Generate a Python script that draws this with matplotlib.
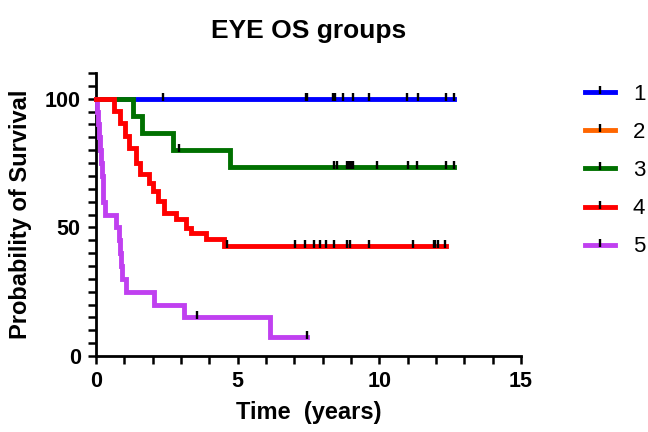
import matplotlib
matplotlib.use("Agg")
import matplotlib.pyplot as plt
from matplotlib.path import Path
from matplotlib.lines import Line2D
import numpy as np

plt.rcParams['font.family'] = ['Liberation Sans', 'DejaVu Sans']

title = "EYE OS groups"
xlabel = "Time  (years)"
ylabel = "Probability of Survival"
group_labels = ["1", "2", "3", "4", "5"]
colors = ["#0000ff", "#ff6600", "#007000", "#ff0000", "#c040f0"]

# Group 1
g1_times = [0.0]
g1_surv = [100.0]
g1_end = 12.63
g1_cens = [2.36, 7.40, 7.45, 8.38, 8.44, 8.72, 9.06, 9.62, 10.99, 11.38, 12.37, 12.63]

# Group 2 (no visible curve)
g2_times = []
g2_surv = []

# Group 3
g3_times = [0.0, 1.32, 1.61, 2.73, 4.73]
g3_surv = [100.0, 93.3, 86.7, 80.0, 73.3]
g3_end = 12.63
g3_cens = [2.92, 8.41, 8.50, 8.86, 8.93, 9.00, 9.07, 9.92, 11.00, 11.33, 12.37, 12.63]

# Group 4
g4_times = [0.0, 0.65, 0.85, 1.04, 1.18, 1.41, 1.57, 1.88, 2.00, 2.18, 2.41, 2.83, 3.18, 3.36, 3.89, 4.53]
g4_surv = [100.0, 95.2, 90.7, 85.5, 80.9, 75.1, 70.6, 67.3, 64.0, 60.2, 55.7, 53.1, 49.8, 47.9, 45.3, 42.7]
g4_end = 12.35
g4_cens = [4.62, 7.01, 7.39, 7.68, 7.92, 8.12, 8.41, 8.86, 8.95, 9.62, 11.18, 11.92, 11.98, 12.06, 12.33]

# Group 5
g5_times = [0.0, 0.04, 0.07, 0.10, 0.14, 0.18, 0.21, 0.23, 0.26, 0.30, 0.70, 0.80, 0.84, 0.87, 0.90, 1.05, 2.03, 3.09, 6.15]
g5_surv = [100, 95, 90, 85, 80, 75, 70, 65, 60, 55, 50, 45, 40, 35, 30, 25, 20, 15, 7.5]
g5_end = 7.45
g5_cens = [3.56, 7.45]

fig = plt.figure(figsize=(6.48, 4.32), dpi=100)
ax = fig.add_axes([96/648, 1-356/432, (521-96)/648, (356-73)/432])

tick_marker = Path([(0, -0.3), (0, 1.0)], [Path.MOVETO, Path.LINETO])
LW = 3.5

def km(times, surv, end, cens, color):
    if not times:
        return
    t = list(times) + [end]
    s = list(surv) + [surv[-1]]
    ax.step(t, s, where='post', color=color, lw=LW, solid_joinstyle='miter', clip_on=False, zorder=3)
    cs = []
    for c in cens:
        idx = np.searchsorted(np.array(times), c, side='right') - 1
        cs.append(surv[idx])
    ax.plot(cens, cs, linestyle='none', marker=tick_marker, markersize=9,
            markeredgewidth=1.7, color='black', clip_on=False, zorder=4)

km(g1_times, g1_surv, g1_end, g1_cens, colors[0])
km(g3_times, g3_surv, g3_end, g3_cens, colors[2])
km(g5_times, g5_surv, g5_end, g5_cens, colors[4])
km(g4_times, g4_surv, g4_end, g4_cens, colors[3])

ax.set_xlim(0, 15)
ax.set_ylim(0, 110)
ax.set_xticks([0, 5, 10, 15])
ax.set_xticks(np.arange(0, 16, 1), minor=True)
ax.set_yticks([0, 50, 100])
ax.set_yticks(np.arange(0, 111, 5), minor=True)
for sp in ['top', 'right']:
    ax.spines[sp].set_visible(False)
for sp in ['left', 'bottom']:
    ax.spines[sp].set_linewidth(2.0)
ax.tick_params(which='both', direction='out', length=6, width=1.8, color='black')
ax.tick_params(which='major', labelsize=15.5, pad=5)
for lab in ax.get_xticklabels() + ax.get_yticklabels():
    lab.set_fontweight('bold')

ax.set_title(title, fontsize=19, fontweight='bold', pad=25)
ax.set_xlabel(xlabel, fontsize=17, fontweight='bold', labelpad=6)
ax.set_ylabel(ylabel, fontsize=17, fontweight='bold', labelpad=9)

handles = []
for c in colors:
    handles.append(Line2D([0], [0], color=c, lw=LW, marker=tick_marker, markersize=9,
                          markeredgewidth=1.7, markeredgecolor='black', markerfacecolor='black'))
fig.legend(handles, group_labels, loc='upper left', bbox_to_anchor=(585/648, 1-84/432),
           frameon=False, fontsize=16, handlelength=1.35, handletextpad=0.8,
           labelspacing=0.77, numpoints=1, borderaxespad=0, borderpad=0)

fig.savefig("out.png", dpi=100)
